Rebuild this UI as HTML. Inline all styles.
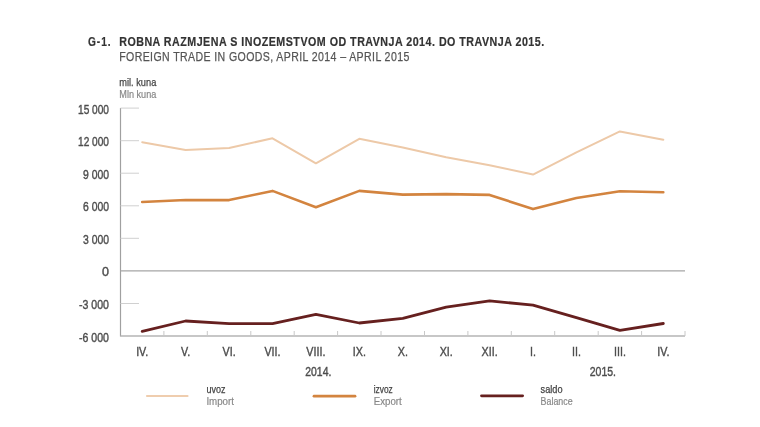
<!DOCTYPE html>
<html><head><meta charset="utf-8"><style>
html,body{margin:0;padding:0;background:#fff;width:760px;height:427px;overflow:hidden}
svg{position:absolute;left:0;top:0;filter:blur(0.4px)}
text{font-family:"Liberation Sans",sans-serif}
.ax{font-size:12.5px;fill:#4d4d4d;stroke:#4d4d4d;stroke-width:0.4px}
</style></head><body>
<svg width="760" height="427" viewBox="0 0 760 427">
<text x="88" y="45.8" font-size="13.2px" font-weight="bold" fill="#333" stroke="#333" stroke-width="0.2" letter-spacing="1.2" textLength="23.5" lengthAdjust="spacingAndGlyphs">G-1.</text>
<text x="119.2" y="45.8" font-size="13.2px" font-weight="bold" fill="#333" stroke="#333" stroke-width="0.2" letter-spacing="0.6" textLength="425.5" lengthAdjust="spacingAndGlyphs">ROBNA RAZMJENA S INOZEMSTVOM OD TRAVNJA 2014. DO TRAVNJA 2015.</text>
<text x="119.2" y="61.3" font-size="13.4px" fill="#555" stroke="#555" stroke-width="0.25" letter-spacing="0.5" textLength="290.5" lengthAdjust="spacingAndGlyphs">FOREIGN TRADE IN GOODS, APRIL 2014 – APRIL 2015</text>
<text x="119.3" y="86.2" font-size="11px" fill="#444" stroke="#444" stroke-width="0.25" textLength="37" lengthAdjust="spacingAndGlyphs">mil. kuna</text>
<text x="119.3" y="98.4" font-size="10.5px" fill="#888" stroke="#888" stroke-width="0.2" textLength="37" lengthAdjust="spacingAndGlyphs">Mln kuna</text>
<text x="109" y="113.6" text-anchor="end" class="ax" textLength="31" lengthAdjust="spacingAndGlyphs">15 000</text><text x="109" y="146.2" text-anchor="end" class="ax" textLength="31" lengthAdjust="spacingAndGlyphs">12 000</text><text x="109" y="178.7" text-anchor="end" class="ax" textLength="26" lengthAdjust="spacingAndGlyphs">9 000</text><text x="109" y="211.3" text-anchor="end" class="ax" textLength="26" lengthAdjust="spacingAndGlyphs">6 000</text><text x="109" y="243.8" text-anchor="end" class="ax" textLength="26" lengthAdjust="spacingAndGlyphs">3 000</text><text x="109" y="276.4" text-anchor="end" class="ax">0</text><text x="109" y="309.0" text-anchor="end" class="ax" textLength="30" lengthAdjust="spacingAndGlyphs">-3 000</text><text x="109" y="341.5" text-anchor="end" class="ax" textLength="30" lengthAdjust="spacingAndGlyphs">-6 000</text>
<line x1="120.5" y1="108" x2="120.5" y2="336.5" stroke="#a0a0a0" stroke-width="1.2"/>
<line x1="120.5" y1="108.1" x2="139" y2="108.1" stroke="#d0d0d0" stroke-width="1"/><line x1="120.5" y1="140.7" x2="139" y2="140.7" stroke="#d0d0d0" stroke-width="1"/><line x1="120.5" y1="173.2" x2="139" y2="173.2" stroke="#d0d0d0" stroke-width="1"/><line x1="120.5" y1="205.8" x2="139" y2="205.8" stroke="#d0d0d0" stroke-width="1"/><line x1="120.5" y1="238.3" x2="139" y2="238.3" stroke="#d0d0d0" stroke-width="1"/><line x1="120.5" y1="303.5" x2="139" y2="303.5" stroke="#d0d0d0" stroke-width="1"/>
<line x1="120.5" y1="270.9" x2="685.0" y2="270.9" stroke="#a6a6a6" stroke-width="1.3"/>
<line x1="120.5" y1="336" x2="685.0" y2="336" stroke="#b5b5b5" stroke-width="1.3"/>
<line x1="163.9" y1="331" x2="163.9" y2="336" stroke="#c8c8c8" stroke-width="1"/><line x1="207.3" y1="331" x2="207.3" y2="336" stroke="#c8c8c8" stroke-width="1"/><line x1="250.8" y1="331" x2="250.8" y2="336" stroke="#c8c8c8" stroke-width="1"/><line x1="294.2" y1="331" x2="294.2" y2="336" stroke="#c8c8c8" stroke-width="1"/><line x1="337.6" y1="331" x2="337.6" y2="336" stroke="#c8c8c8" stroke-width="1"/><line x1="381.0" y1="331" x2="381.0" y2="336" stroke="#c8c8c8" stroke-width="1"/><line x1="424.5" y1="331" x2="424.5" y2="336" stroke="#c8c8c8" stroke-width="1"/><line x1="467.9" y1="331" x2="467.9" y2="336" stroke="#c8c8c8" stroke-width="1"/><line x1="511.3" y1="331" x2="511.3" y2="336" stroke="#c8c8c8" stroke-width="1"/><line x1="554.7" y1="331" x2="554.7" y2="336" stroke="#c8c8c8" stroke-width="1"/><line x1="598.2" y1="331" x2="598.2" y2="336" stroke="#c8c8c8" stroke-width="1"/><line x1="641.6" y1="331" x2="641.6" y2="336" stroke="#c8c8c8" stroke-width="1"/><line x1="685.0" y1="331" x2="685.0" y2="336" stroke="#c8c8c8" stroke-width="1"/>
<polyline points="142.2,142.2 185.6,149.9 229.1,148.0 272.5,138.3 315.9,163.3 359.3,138.8 402.8,147.4 446.2,157.2 489.6,165.2 533.0,174.6 576.4,152.4 619.9,131.4 663.3,139.8" fill="none" stroke="#edc9a8" stroke-width="2" stroke-linejoin="round" stroke-linecap="round"/>
<polyline points="142.2,202.0 185.6,200.0 229.1,200.1 272.5,190.9 315.9,207.2 359.3,190.9 402.8,194.6 446.2,194.1 489.6,194.9 533.0,209.1 576.4,198.0 619.9,191.2 663.3,192.2" fill="none" stroke="#d3843f" stroke-width="2.6" stroke-linejoin="round" stroke-linecap="round"/>
<polyline points="142.2,331.4 185.6,321.0 229.1,323.6 272.5,323.6 315.9,314.4 359.3,323.0 402.8,318.3 446.2,307.2 489.6,300.9 533.0,305.1 576.4,317.6 619.9,330.4 663.3,323.5" fill="none" stroke="#66201f" stroke-width="2.8" stroke-linejoin="round" stroke-linecap="round"/>
<text transform="translate(142.2,355.8) scale(0.86,1)" x="0" y="0" text-anchor="middle" class="ax">IV.</text><text transform="translate(185.6,355.8) scale(0.86,1)" x="0" y="0" text-anchor="middle" class="ax">V.</text><text transform="translate(229.1,355.8) scale(0.86,1)" x="0" y="0" text-anchor="middle" class="ax">VI.</text><text transform="translate(272.5,355.8) scale(0.86,1)" x="0" y="0" text-anchor="middle" class="ax">VII.</text><text transform="translate(315.9,355.8) scale(0.86,1)" x="0" y="0" text-anchor="middle" class="ax">VIII.</text><text transform="translate(359.3,355.8) scale(0.86,1)" x="0" y="0" text-anchor="middle" class="ax">IX.</text><text transform="translate(402.8,355.8) scale(0.86,1)" x="0" y="0" text-anchor="middle" class="ax">X.</text><text transform="translate(446.2,355.8) scale(0.86,1)" x="0" y="0" text-anchor="middle" class="ax">XI.</text><text transform="translate(489.6,355.8) scale(0.86,1)" x="0" y="0" text-anchor="middle" class="ax">XII.</text><text transform="translate(533.0,355.8) scale(0.86,1)" x="0" y="0" text-anchor="middle" class="ax">I.</text><text transform="translate(576.4,355.8) scale(0.86,1)" x="0" y="0" text-anchor="middle" class="ax">II.</text><text transform="translate(619.9,355.8) scale(0.86,1)" x="0" y="0" text-anchor="middle" class="ax">III.</text><text transform="translate(663.3,355.8) scale(0.86,1)" x="0" y="0" text-anchor="middle" class="ax">IV.</text>
<text x="305.3" y="375.5" class="ax" textLength="26" lengthAdjust="spacingAndGlyphs">2014.</text>
<text x="589.7" y="375.5" class="ax" textLength="26.3" lengthAdjust="spacingAndGlyphs">2015.</text>
<line x1="147" y1="396" x2="187.5" y2="396" stroke="#efcdae" stroke-width="2.2" stroke-linecap="round"/>
<line x1="314" y1="396.2" x2="355" y2="396.2" stroke="#d3843f" stroke-width="2.8" stroke-linecap="round"/>
<line x1="481.5" y1="395.8" x2="522.6" y2="395.8" stroke="#66201f" stroke-width="2.8" stroke-linecap="round"/>
<text x="206.4" y="392.9" font-size="11px" fill="#444" stroke="#444" stroke-width="0.25" textLength="19" lengthAdjust="spacingAndGlyphs">uvoz</text>
<text x="206.4" y="405" font-size="10.5px" fill="#888" stroke="#888" stroke-width="0.2" textLength="27.6" lengthAdjust="spacingAndGlyphs">Import</text>
<text x="373.7" y="392.9" font-size="11px" fill="#444" stroke="#444" stroke-width="0.25" textLength="19" lengthAdjust="spacingAndGlyphs">izvoz</text>
<text x="373.7" y="405" font-size="10.5px" fill="#888" stroke="#888" stroke-width="0.2" textLength="28" lengthAdjust="spacingAndGlyphs">Export</text>
<text x="540.6" y="392.9" font-size="11px" fill="#444" stroke="#444" stroke-width="0.25" textLength="22" lengthAdjust="spacingAndGlyphs">saldo</text>
<text x="540.6" y="404.5" font-size="10.5px" fill="#888" stroke="#888" stroke-width="0.2" textLength="32" lengthAdjust="spacingAndGlyphs">Balance</text>
</svg>
</body></html>
